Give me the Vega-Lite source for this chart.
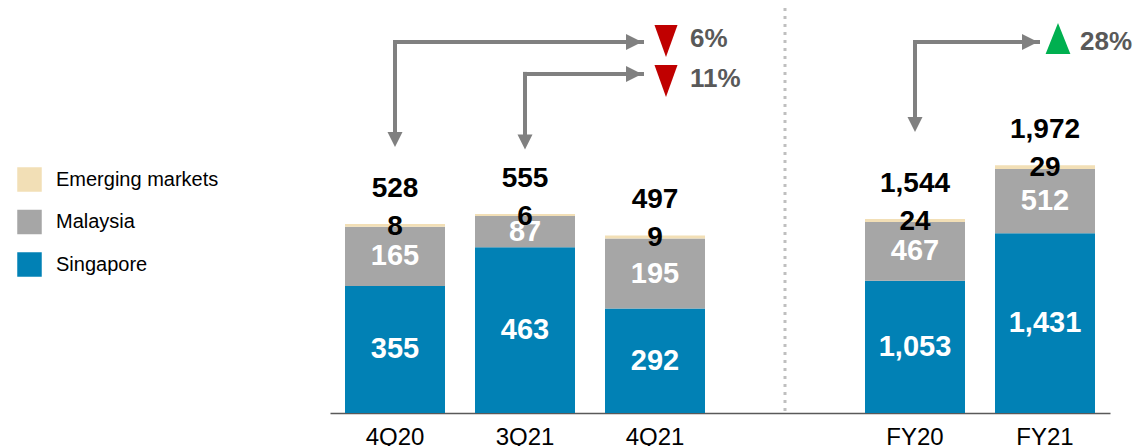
{
  "$schema": "https://vega.github.io/schema/vega-lite/v6.json",
  "width": 780,
  "height": 405,
  "autosize": "none",
  "padding": {"left": 330, "top": 8, "right": 27, "bottom": 33},
  "background": "white",
  "config": {"view": {"stroke": null}, "font": "Liberation Sans", "text": {"font": "Liberation Sans"}},
  "encoding": {
    "x": {
      "field": "period", "type": "nominal", "title": null,
      "scale": {"domain": ["4Q20", "3Q21", "4Q21", "sep", "FY20", "FY21"], "paddingInner": 0.2308, "paddingOuter": 0.1154},
      "axis": {"labelExpr": "datum.value == 'sep' ? '' : datum.value", "labelAngle": 0, "labelFontSize": 24, "labelColor": "#000000", "labelFont": "Liberation Sans", "ticks": false, "tickSize": 0, "labelPadding": 12, "domainColor": "#595959", "domainWidth": 1.5, "grid": false}
    }
  },
  "layer": [
    {
      "data": {"values": [
        {"period": "4Q20", "segment": "Singapore", "value": 355},
        {"period": "4Q20", "segment": "Malaysia", "value": 165},
        {"period": "4Q20", "segment": "Emerging markets", "value": 8},
        {"period": "3Q21", "segment": "Singapore", "value": 463},
        {"period": "3Q21", "segment": "Malaysia", "value": 87},
        {"period": "3Q21", "segment": "Emerging markets", "value": 6},
        {"period": "4Q21", "segment": "Singapore", "value": 292},
        {"period": "4Q21", "segment": "Malaysia", "value": 195},
        {"period": "4Q21", "segment": "Emerging markets", "value": 9}
      ]},
      "layer": [
        {
          "mark": {"type": "bar"},
          "encoding": {
            "y": {"field": "value", "type": "quantitative", "stack": "zero", "scale": {"domain": [0, 1131], "nice": false}, "axis": null},
            "color": {"field": "segment", "type": "nominal", "scale": {"domain": ["Emerging markets", "Malaysia", "Singapore"], "range": ["#F2DFB6", "#A6A6A6", "#0181B5"]},
              "legend": {"title": null, "orient": "none", "legendX": -313, "legendY": 159, "symbolType": "square", "symbolSize": 600, "symbolStrokeWidth": 0, "symbolOpacity": 1, "labelFontSize": 20, "labelFont": "Liberation Sans", "labelColor": "#000000", "labelOffset": 14, "rowPadding": 17.5, "labelLimit": 300}},
            "order": {"field": "segment", "sort": "descending"}
          }
        },
        {
          "transform": [{"filter": "datum.segment != 'Emerging markets'"}],
          "mark": {"type": "text", "color": "white", "fontSize": 29, "fontWeight": "bold", "font": "Liberation Sans"},
          "encoding": {
            "y": {"field": "value", "type": "quantitative", "stack": "zero", "bandPosition": 0.5, "scale": {"domain": [0, 1131], "nice": false}, "axis": null},
            "detail": {"field": "segment"},
            "order": {"field": "segment", "sort": "descending"},
            "text": {"field": "value", "type": "quantitative", "format": ","}
          }
        },
        {
          "transform": [
            {"joinaggregate": [{"op": "sum", "field": "value", "as": "top"}], "groupby": ["period"]},
            {"filter": "datum.segment == 'Emerging markets'"}
          ],
          "mark": {"type": "text", "color": "black", "fontSize": 28, "fontWeight": "bold", "dy": 3, "font": "Liberation Sans"},
          "encoding": {
            "y": {"field": "top", "type": "quantitative", "scale": {"domain": [0, 1131], "nice": false}, "axis": null},
            "text": {"field": "value", "type": "quantitative"}
          }
        },
        {
          "data": {"values": [
            {"period": "4Q20", "total": 528},
            {"period": "3Q21", "total": 555},
            {"period": "4Q21", "total": 497}
          ]},
          "mark": {"type": "text", "color": "black", "fontSize": 28, "fontWeight": "bold", "dy": -35, "font": "Liberation Sans"},
          "encoding": {
            "y": {"field": "total", "type": "quantitative", "scale": {"domain": [0, 1131], "nice": false}, "axis": null},
            "text": {"field": "total", "type": "quantitative", "format": ","}
          }
        },
        {
          "data": {"values": [
            {"period": "4Q20", "to": "4Q21", "level": 1036, "head": 764},
            {"period": "3Q21", "to": "4Q21", "level": 947, "head": 757}
          ]},
          "layer": [
            {
              "mark": {"type": "rule", "color": "#808080", "strokeWidth": 4, "strokeCap": "square"},
              "encoding": {
                "y": {"field": "level", "type": "quantitative", "scale": {"domain": [0, 1131], "nice": false}, "axis": null},
                "y2": {"field": "head"}
              }
            },
            {
              "mark": {"type": "rule", "color": "#808080", "strokeWidth": 4, "strokeCap": "square", "x2Offset": -13},
              "encoding": {
                "x2": {"field": "to"},
                "y": {"field": "level", "type": "quantitative", "scale": {"domain": [0, 1131], "nice": false}, "axis": null}
              }
            },
            {
              "mark": {"type": "point", "filled": true, "opacity": 1, "color": "#808080", "shape": "M-1,-1L1,-1L0,1Z", "size": 225},
              "encoding": {
                "y": {"field": "head", "type": "quantitative", "scale": {"domain": [0, 1131], "nice": false}, "axis": null}
              }
            }
          ]
        },
        {
          "data": {"values": [
            {"period": "4Q21", "arrow": 1036, "level": 1039, "label": "6%"},
            {"period": "4Q21", "arrow": 947, "level": 927, "label": "11%"}
          ]},
          "layer": [
            {
              "mark": {"type": "point", "filled": true, "opacity": 1, "color": "#808080", "shape": "M-1,-1L1,0L-1,1Z", "size": 256, "xOffset": -21},
              "encoding": {
                "y": {"field": "arrow", "type": "quantitative", "scale": {"domain": [0, 1131], "nice": false}, "axis": null}
              }
            },
            {
              "mark": {"type": "point", "filled": true, "opacity": 1, "color": "#C00000", "shape": "M-0.72,-1L0.72,-1L0,1Z", "size": 1024, "xOffset": 11},
              "encoding": {
                "y": {"field": "level", "type": "quantitative", "scale": {"domain": [0, 1131], "nice": false}, "axis": null}
              }
            },
            {
              "mark": {"type": "text", "color": "#595959", "fontSize": 26, "fontWeight": "bold", "align": "left", "dx": 35, "dy": -2, "font": "Liberation Sans"},
              "encoding": {
                "y": {"field": "level", "type": "quantitative", "scale": {"domain": [0, 1131], "nice": false}, "axis": null},
                "text": {"field": "label"}
              }
            }
          ]
        }
      ]
    },
    {
      "data": {"values": [
        {"period": "FY20", "segment": "Singapore", "value": 1053},
        {"period": "FY20", "segment": "Malaysia", "value": 467},
        {"period": "FY20", "segment": "Emerging markets", "value": 24},
        {"period": "FY21", "segment": "Singapore", "value": 1431},
        {"period": "FY21", "segment": "Malaysia", "value": 512},
        {"period": "FY21", "segment": "Emerging markets", "value": 29}
      ]},
      "layer": [
        {
          "mark": {"type": "bar"},
          "encoding": {
            "y": {"field": "value", "type": "quantitative", "stack": "zero", "scale": {"domain": [0, 3225], "nice": false}, "axis": null},
            "color": {"field": "segment", "type": "nominal", "scale": {"domain": ["Emerging markets", "Malaysia", "Singapore"], "range": ["#F2DFB6", "#A6A6A6", "#0181B5"]},
              "legend": {"title": null, "orient": "none", "legendX": -313, "legendY": 159, "symbolType": "square", "symbolSize": 600, "symbolStrokeWidth": 0, "symbolOpacity": 1, "labelFontSize": 20, "labelFont": "Liberation Sans", "labelColor": "#000000", "labelOffset": 14, "rowPadding": 17.5, "labelLimit": 300}},
            "order": {"field": "segment", "sort": "descending"}
          }
        },
        {
          "transform": [{"filter": "datum.segment != 'Emerging markets'"}],
          "mark": {"type": "text", "color": "white", "fontSize": 29, "fontWeight": "bold", "font": "Liberation Sans"},
          "encoding": {
            "y": {"field": "value", "type": "quantitative", "stack": "zero", "bandPosition": 0.5, "scale": {"domain": [0, 3225], "nice": false}, "axis": null},
            "detail": {"field": "segment"},
            "order": {"field": "segment", "sort": "descending"},
            "text": {"field": "value", "type": "quantitative", "format": ","}
          }
        },
        {
          "transform": [
            {"joinaggregate": [{"op": "sum", "field": "value", "as": "top"}], "groupby": ["period"]},
            {"filter": "datum.segment == 'Emerging markets'"}
          ],
          "mark": {"type": "text", "color": "black", "fontSize": 28, "fontWeight": "bold", "dy": 3, "font": "Liberation Sans"},
          "encoding": {
            "y": {"field": "top", "type": "quantitative", "scale": {"domain": [0, 3225], "nice": false}, "axis": null},
            "text": {"field": "value", "type": "quantitative"}
          }
        },
        {
          "data": {"values": [
            {"period": "FY20", "total": 1544},
            {"period": "FY21", "total": 1972}
          ]},
          "mark": {"type": "text", "color": "black", "fontSize": 28, "fontWeight": "bold", "dy": -35, "font": "Liberation Sans"},
          "encoding": {
            "y": {"field": "total", "type": "quantitative", "scale": {"domain": [0, 3225], "nice": false}, "axis": null},
            "text": {"field": "total", "type": "quantitative", "format": ","}
          }
        },
        {
          "data": {"values": [
            {"period": "FY20", "to": "FY21", "level": 2954, "head": 2297}
          ]},
          "layer": [
            {
              "mark": {"type": "rule", "color": "#808080", "strokeWidth": 4, "strokeCap": "square"},
              "encoding": {
                "y": {"field": "level", "type": "quantitative", "scale": {"domain": [0, 3225], "nice": false}, "axis": null},
                "y2": {"field": "head"}
              }
            },
            {
              "mark": {"type": "rule", "color": "#808080", "strokeWidth": 4, "strokeCap": "square", "x2Offset": -7},
              "encoding": {
                "x2": {"field": "to"},
                "y": {"field": "level", "type": "quantitative", "scale": {"domain": [0, 3225], "nice": false}, "axis": null}
              }
            },
            {
              "mark": {"type": "point", "filled": true, "opacity": 1, "color": "#808080", "shape": "M-1,-1L1,-1L0,1Z", "size": 225},
              "encoding": {
                "y": {"field": "head", "type": "quantitative", "scale": {"domain": [0, 3225], "nice": false}, "axis": null}
              }
            }
          ]
        },
        {
          "data": {"values": [
            {"period": "FY21", "arrow": 2954, "level": 2982, "label": "28%"}
          ]},
          "layer": [
            {
              "mark": {"type": "point", "filled": true, "opacity": 1, "color": "#808080", "shape": "M-1,-1L1,0L-1,1Z", "size": 256, "xOffset": -15},
              "encoding": {
                "y": {"field": "arrow", "type": "quantitative", "scale": {"domain": [0, 3225], "nice": false}, "axis": null}
              }
            },
            {
              "mark": {"type": "point", "filled": true, "opacity": 1, "color": "#00B050", "shape": "M0,-1L0.8,1L-0.8,1Z", "size": 961, "xOffset": 13},
              "encoding": {
                "y": {"field": "level", "type": "quantitative", "scale": {"domain": [0, 3225], "nice": false}, "axis": null}
              }
            },
            {
              "mark": {"type": "text", "color": "#595959", "fontSize": 26, "fontWeight": "bold", "align": "left", "dx": 35, "dy": 3.5, "font": "Liberation Sans"},
              "encoding": {
                "y": {"field": "level", "type": "quantitative", "scale": {"domain": [0, 3225], "nice": false}, "axis": null},
                "text": {"field": "label"}
              }
            }
          ]
        }
      ]
    },
    {
      "data": {"values": [{"period": "sep"}]},
      "mark": {"type": "rule", "color": "#BFBFBF", "strokeWidth": 3, "strokeDash": [3, 5]},
      "encoding": {}
    }
  ],
  "resolve": {"scale": {"y": "independent"}}
}
